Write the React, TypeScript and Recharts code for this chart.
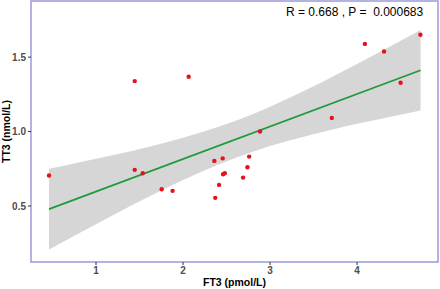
import React from "react";
import {
  ComposedChart,
  Scatter,
  Area,
  Line,
  XAxis,
  YAxis,
  ReferenceArea,
} from "recharts";

// FT3 (pmol/L) vs TT3 (nmol/L)
const ft3 = [0.46, 1.445, 2.065, 1.445, 1.537, 1.755, 1.88, 2.36, 2.37, 2.414, 2.456, 2.46, 2.48, 2.69, 2.74, 2.76, 2.885, 3.71, 4.09, 4.31, 4.5, 4.728];
const tt3 = [0.705, 1.339, 1.368, 0.743, 0.72, 0.613, 0.602, 0.803, 0.555, 0.642, 0.82, 0.713, 0.72, 0.691, 0.76, 0.832, 1.0, 1.092, 1.589, 1.538, 1.328, 1.65];

// confidence band of the fit, read at a few x positions
const bandX = [0.46, 0.8, 1.2, 1.6, 2.0, 2.4, 2.8, 3.2, 3.6, 4.0, 4.4, 4.73];
const bandLow = [0.208, 0.316, 0.44, 0.56, 0.674, 0.777, 0.864, 0.936, 0.997, 1.052, 1.102, 1.142];
const bandHigh = [0.75, 0.792, 0.842, 0.896, 0.958, 1.03, 1.117, 1.22, 1.333, 1.454, 1.578, 1.682];

// fitted line ends
const fitX = [0.46, 4.73];
const fitY = [0.479, 1.412];

const xTicks = [1, 2, 3, 4];
const yTicks = [0.5, 1.0, 1.5];

const X_MIN = 0.253;
const X_MAX = 4.93;
const Y_MIN = 0.124;
const Y_MAX = 1.877;

const points = ft3.map((x, i) => ({ x, y: tt3[i] }));
const band = bandX.map((x, i) => ({ x, band: [bandLow[i], bandHigh[i]] }));
const fit = fitX.map((x, i) => ({ x, y: fitY[i] }));

const tickStyle = { fill: "#4d4d4d", fontSize: 10, fontWeight: 700, fontFamily: "Liberation Sans, Arial, sans-serif" };
const titleStyle = { fill: "#000", fontSize: 10.5, fontWeight: 700, fontFamily: "Liberation Sans, Arial, sans-serif" };

const Dot = (p: any) => <circle cx={p.cx} cy={p.cy} r={2.2} fill="#e3121b" />;

export default function App() {
  return (
    <div style={{ position: "absolute", left: 0, top: 0, width: 440, height: 289, background: "#fff" }}>
      <ComposedChart width={440} height={289} margin={{ top: 1, right: 2, bottom: 0, left: 0 }}>
        <XAxis
          type="number"
          dataKey="x"
          domain={[X_MIN, X_MAX]}
          ticks={xTicks}
          allowDataOverflow
          height={27}
          tick={tickStyle}
          tickSize={3}
          tickLine={{ stroke: "#333" }}
          axisLine={false}
          label={{ value: "FT3 (pmol/L)", position: "insideBottom", offset: 3, style: titleStyle }}
        />
        <YAxis
          type="number"
          domain={[Y_MIN, Y_MAX]}
          ticks={yTicks}
          allowDataOverflow
          width={31}
          tick={tickStyle}
          tickSize={3}
          tickLine={{ stroke: "#333" }}
          tickFormatter={(v: number) => v.toFixed(1)}
          axisLine={false}
          label={{ value: "TT3 (nmol/L)", angle: -90, position: "insideLeft", offset: 6, style: { ...titleStyle, textAnchor: "middle" } }}
        />
        <Scatter data={points} dataKey="y" shape={Dot} isAnimationActive={false} />
        <Area
          data={band}
          dataKey="band"
          type="monotone"
          fill="#999999"
          fillOpacity={0.4}
          stroke="none"
          isAnimationActive={false}
        />
        <Line
          data={fit}
          dataKey="y"
          type="linear"
          stroke="#1e9a3c"
          strokeWidth={1.8}
          dot={false}
          isAnimationActive={false}
        />
        <ReferenceArea x1={X_MIN} x2={X_MAX} y1={Y_MIN} y2={Y_MAX} fill="none" stroke="#9a9ad8" strokeWidth={1.5} />
      </ComposedChart>
      <div
        style={{
          position: "absolute",
          left: 286,
          top: 5,
          fontSize: 12,
          fontFamily: "Liberation Sans, Arial, sans-serif",
          color: "#000",
          whiteSpace: "pre",
        }}
      >
        {"R = 0.668 , P =  0.000683"}
      </div>
    </div>
  );
}
